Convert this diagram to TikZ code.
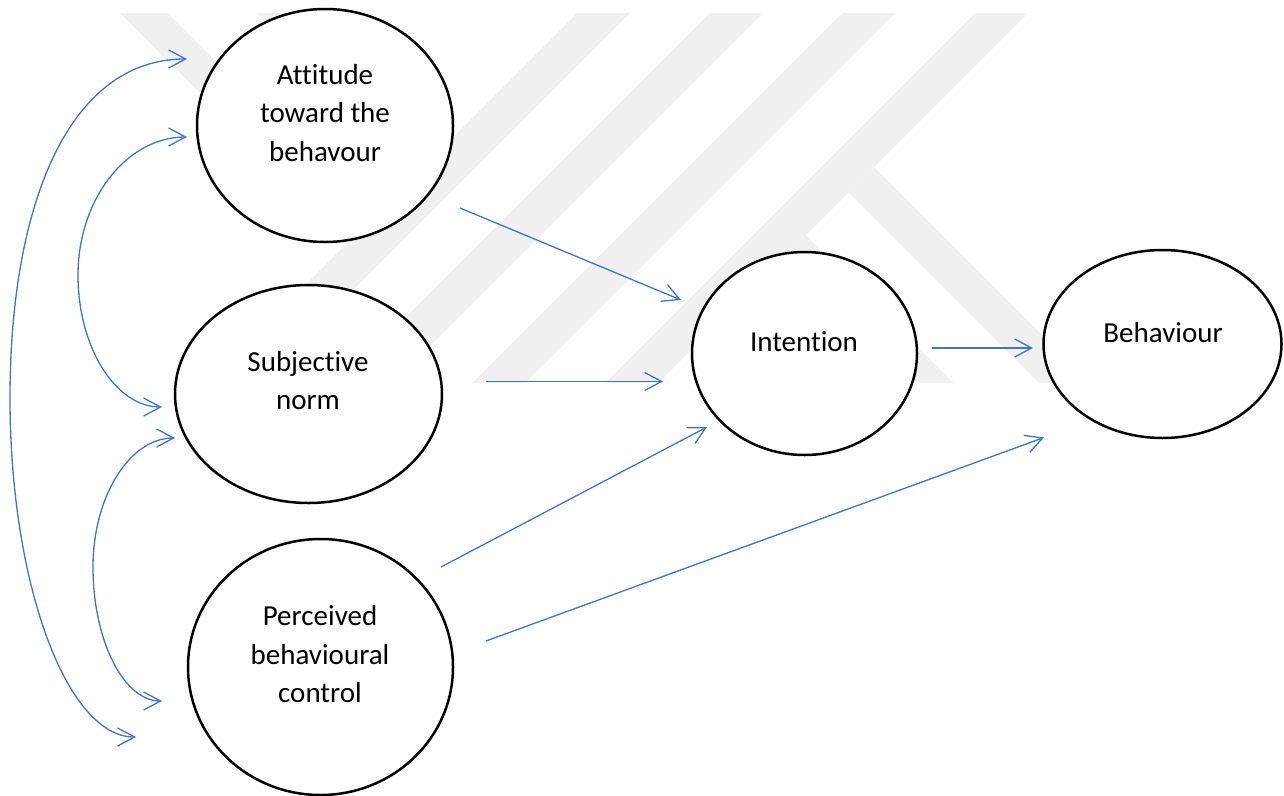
\documentclass[tikz,border=0pt]{standalone}
\usepackage{fontspec}
\setmainfont{Carlito}[Ligatures=NoCommon]
\usetikzlibrary{shapes.geometric,arrows.meta,calc}
\definecolor{arrowblue}{HTML}{4472C4}
\definecolor{wmgray}{HTML}{F0F0F0}
\tikzset{
  ell/.style={ellipse, draw=black, line width=2.5pt, fill=white, inner sep=0pt},
  lbl/.style={align=center, font=\fontsize{29}{38.5}\selectfont, inner sep=0pt},
  conn/.style={draw=arrowblue, line width=1.3pt, -{Straight Barb[length=17pt,width=18pt]}},
  dconn/.style={draw=arrowblue, line width=1.3pt, {Straight Barb[length=17pt,width=18pt]}-{Straight Barb[length=17pt,width=18pt]}},
  wm/.style={fill=wmgray, draw=none}
}
\begin{document}
\begin{tikzpicture}[x=1pt,y=-1pt]
\useasboundingbox (0,0) rectangle (1284,795);
% faint background watermark
\fill[wm] (120,13) -- (167,13) -- (354,200) -- (307,200) -- cycle;
\fill[wm] (257,13) -- (310,13) -- (397,100) -- (344,100) -- cycle;
\fill[wm] (577,13) -- (630,13) -- (260,383) -- (207,383) -- cycle;
\fill[wm] (710,13) -- (763,13) -- (393,383) -- (340,383) -- cycle;
\fill[wm] (842,13) -- (895,13) -- (525,383) -- (472,383) -- cycle;
\fill[wm] (975,13) -- (1028,13) -- (658,383) -- (605,383) -- cycle;
\fill[wm] (874,167) -- (1090,383) -- (1039,383) -- (848.5,192.5) -- cycle;
\fill[wm] (805.5,235.5) -- (953,383) -- (900,383) -- (779,262) -- cycle;

% ellipses
\node[ell, minimum width=256pt, minimum height=233pt] (att) at (325,125.5) {};
\node[ell, minimum width=267pt, minimum height=218pt] (sub) at (308.5,394) {};
\node[ell, minimum width=265pt, minimum height=256pt] (per) at (320.5,667) {};
\node[ell, minimum width=225pt, minimum height=203pt] (int) at (804.5,353.5) {};
\node[ell, minimum width=238pt, minimum height=188pt] (beh) at (1162.5,344) {};

% labels
\node[lbl] (att-t) at (325,113) {Attitude\\toward the\\behavour};
\node[lbl] (sub-t) at (308,380.5) {Subjective\\norm};
\node[lbl] (per-t) at (320,654.5) {Perceived\\behavioural\\control};
\node[lbl] (int-t) at (804,341.5) {Intention};
\node[lbl] (beh-t) at (1163,332.5) {Behaviour};

% straight connectors
\draw[conn] ($(att.center)+(135,82.5)$) -- ($(int.center)+(-123.5,-53.5)$);
\draw[conn] ($(sub.center)+(177.5,-12.5)$) -- ($(int.center)+(-141.5,28)$);
\draw[conn] ($(per.center)+(120.5,-100)$) -- ($(int.center)+(-97.5,73.5)$);
\draw[conn] ($(per.center)+(165.5,-26)$) -- ($(beh.center)+(-118.5,93.5)$);
\draw[conn] ($(int.center)+(127.5,-5.5)$) -- ($(beh.center)+(-129.5,4)$);

% curved two-headed connectors
\coordinate (a1) at ($(att.center)+(-138,-66.5)$);
\coordinate (a2) at ($(per.center)+(-184.5,70)$);
\draw[dconn] (a1) .. controls +(-120,0) and +(0,-190) .. (10,398)
                  .. controls +(0,186) and +(-69,0) .. (a2);
\coordinate (b1) at ($(att.center)+(-138,11.5)$);
\coordinate (b2) at ($(sub.center)+(-146.5,13)$);
\draw[dconn] (b1) .. controls +(-60,0) and +(0,-76) .. (78,275)
                  .. controls +(0,73) and +(-46,0) .. (b2);
\coordinate (c1) at ($(sub.center)+(-133.5,44)$);
\coordinate (c2) at ($(per.center)+(-158.5,34)$);
\draw[dconn] (c1) .. controls +(-45,0) and +(0,-71) .. (93,567)
                  .. controls +(0,74) and +(-38,0) .. (c2);
\end{tikzpicture}
\end{document}
